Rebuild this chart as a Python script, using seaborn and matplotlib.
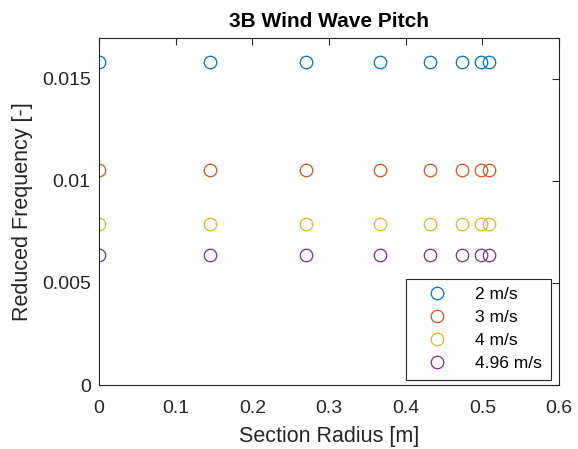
import numpy as np
import pandas as pd
import seaborn as sns
import matplotlib
matplotlib.use("Agg")
import matplotlib.pyplot as plt

# Data
radius = [0.0, 0.145, 0.270, 0.366, 0.432, 0.474, 0.498, 0.509]
speeds = ["2 m/s", "3 m/s", "4 m/s", "4.96 m/s"]
reduced_freq = [0.01582, 0.01055, 0.00791, 0.00638]
colors = ["#0072BD", "#D95319", "#EDB120", "#7E2F8E"]

rows = []
for s, k in zip(speeds, reduced_freq):
    for r in radius:
        rows.append({"radius": r, "k": k, "speed": s})
df = pd.DataFrame(rows)

sns.set_style("white")
plt.rcParams["font.family"] = ["Liberation Sans", "DejaVu Sans"]

fig = plt.figure(figsize=(5.78, 4.49), dpi=100)
ax = fig.add_axes([99 / 578, 64 / 449, 460 / 578, 347 / 449])

sns.lineplot(data=df, x="radius", y="k", hue="speed", palette=colors,
             hue_order=speeds, estimator=None, sort=False, linestyle="none",
             marker="o", markersize=9, markerfacecolor="none",
             markeredgewidth=0.9, ax=ax, legend=True)
for ln in ax.lines:
    ln.set_markeredgecolor(ln.get_color())
    ln.set_markerfacecolor("none")
    ln.set_linestyle("none")

ax.set_xlim(0, 0.6)
ax.set_ylim(0, 0.017)
ax.set_xticks([0, 0.1, 0.2, 0.3, 0.4, 0.5, 0.6])
ax.set_xticklabels(["0", "0.1", "0.2", "0.3", "0.4", "0.5", "0.6"])
ax.set_yticks([0, 0.005, 0.01, 0.015])
ax.set_yticklabels(["0", "0.005", "0.01", "0.015"])

tc = "#262626"
for sp in ax.spines.values():
    sp.set_visible(True)
    sp.set_color(tc)
    sp.set_linewidth(0.8)
ax.tick_params(direction="in", length=5, width=0.8, colors=tc, labelsize=14,
               top=True, right=True, labeltop=False, labelright=False, pad=6)
ax.tick_params(axis="x", pad=10.5)

ax.set_xlabel("Section Radius [m]", fontsize=15.5, color=tc, labelpad=7)
ax.set_ylabel("Reduced Frequency [-]", fontsize=15.5, color=tc, labelpad=6)
ax.set_title("3B Wind Wave Pitch", fontsize=15, fontweight="bold", color="black", pad=8)

handles, labels = ax.get_legend_handles_labels()
for h in handles:
    h.set_markeredgecolor(h.get_color())
    h.set_markerfacecolor("none")
    h.set_linestyle("none")
    h.set_marker("o")
    h.set_markersize(9)
    h.set_markeredgewidth(0.9)
leg = ax.legend(handles, labels, loc="lower right", bbox_to_anchor=(0.982, 0.0144),
                fontsize=12.5, frameon=True, fancybox=False, edgecolor=tc,
                framealpha=1, borderpad=0.5, labelspacing=0.45, handlelength=2.6,
                handletextpad=0.9, borderaxespad=0)
leg.get_frame().set_linewidth(0.8)
for t in leg.get_texts():
    t.set_color("black")

fig.savefig("out.png", dpi=100)
